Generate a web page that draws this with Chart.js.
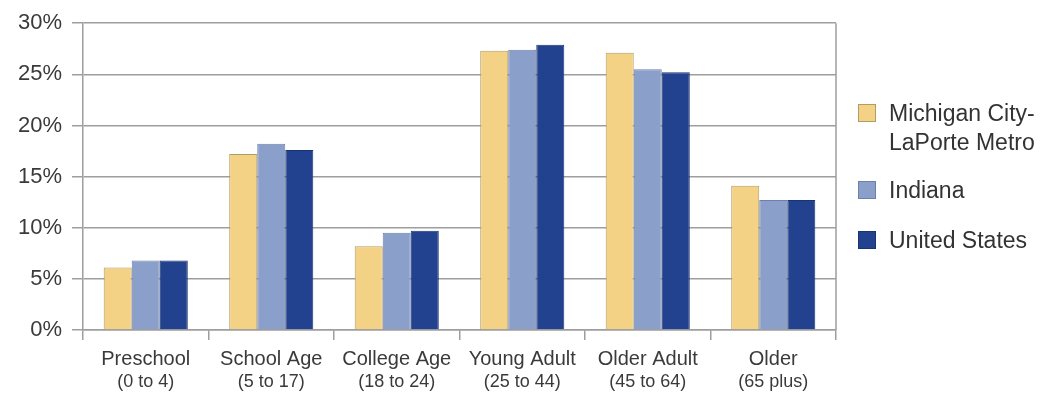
<!DOCTYPE html>
<html>
<head>
<meta charset="utf-8">
<script src="https://cdn.jsdelivr.net/npm/chart.js@4"></script>
<style>
  body { margin: 0; background: #fff; }
  #wrap { position: relative; width: 1041px; height: 393px; }
  .legend-item { position: absolute; left: 858px; font-family: "Liberation Sans", Arial, sans-serif; font-size: 23px; color: #333; line-height: 29px; }
  .legend-item .box { position: absolute; left: 0; top: 5px; width: 18px; height: 18px; }
  .legend-item .txt { position: absolute; left: 31px; top: 0; white-space: nowrap; }
</style>
</head>
<body>
<div id="wrap">
  <canvas id="ageChart" width="1041" height="393"></canvas>
</div>
<script>
// age groups (main label + range shown underneath)
const categories = ['Preschool', 'School Age', 'College Age', 'Young Adult', 'Older Adult', 'Older'];
const subLabels = ['(0 to 4)', '(5 to 17)', '(18 to 24)', '(25 to 44)', '(45 to 64)', '(65 plus)'];

// share of population, percent
const michiganCity = [6.1, 17.2, 8.2, 27.3, 27.1, 14.1];
const indiana = [6.8, 18.2, 9.5, 27.4, 25.5, 12.7];
const unitedStates = [6.8, 17.6, 9.7, 27.9, 25.2, 12.7];

const seriesNames = [['Michigan City-', 'LaPorte Metro'], ['Indiana'], ['United States']];
const fills = ['#F3D286', '#8A9FCA', '#22418F'];
const borders = ['#b39b66', '#6f80a8', '#1b3373'];

const gridColor = '#9e9e9e';

// sub labels + right frame line, drawn off the scales
const extrasPlugin = {
    id: 'extras',
    afterDraw(chart) {
        const ctx = chart.ctx;
        const area = chart.chartArea;
        const xScale = chart.scales.x;
        ctx.save();
        ctx.strokeStyle = gridColor;
        ctx.lineWidth = 1.5;
        ctx.beginPath();
        ctx.moveTo(area.right, area.top);
        ctx.lineTo(area.right, area.bottom);
        ctx.stroke();

        ctx.fillStyle = '#3a3a3a';
        ctx.font = '18px "Liberation Sans", Arial, sans-serif';
        ctx.textAlign = 'center';
        ctx.textBaseline = 'alphabetic';
        subLabels.forEach((s, i) => {
            ctx.fillText(s, xScale.getPixelForValue(i), area.bottom + 57);
        });
        ctx.restore();
    }
};

const ctx = document.getElementById('ageChart').getContext('2d');
const ageChart = new Chart(ctx, {
    type: 'bar',
    data: {
        labels: categories,
        datasets: [michiganCity, indiana, unitedStates].map((vals, i) => ({
            label: seriesNames[i].join(' '),
            data: vals,
            backgroundColor: fills[i],
            borderColor: borders[i],
            borderWidth: 1,
            categoryPercentage: 0.67,
            barPercentage: 1.0
        }))
    },
    options: {
        responsive: false,
        animation: false,
        layout: { padding: { top: 23, right: 205, left: 0, bottom: 0 } },
        plugins: {
            legend: { display: false },
            tooltip: { enabled: false }
        },
        scales: {
            x: {
                grid: {
                    offset: true,
                    drawOnChartArea: false,
                    drawTicks: true,
                    tickLength: 10,
                    color: gridColor,
                    lineWidth: 1.5
                },
                border: { display: true, color: gridColor, width: 1.5 },
                ticks: {
                    color: '#3a3a3a',
                    padding: 7,
                    font: { family: '"Liberation Sans", Arial, sans-serif', size: 20 },
                    maxRotation: 0
                },
                afterFit(scale) { scale.height = 63; }
            },
            y: {
                min: 0,
                max: 30,
                grid: {
                    color: gridColor,
                    lineWidth: 1.5,
                    drawTicks: true,
                    tickLength: 11
                },
                border: { display: true, color: gridColor, width: 1.5 },
                ticks: {
                    stepSize: 5,
                    color: '#3a3a3a',
                    padding: 10,
                    font: { family: '"Liberation Sans", Arial, sans-serif', size: 22 },
                    callback: v => v + '%'
                },
                afterFit(scale) { scale.width = 83; }
            }
        }
    },
    plugins: [extrasPlugin]
});

// html legend on the right
const wrap = document.getElementById('wrap');
const legendTops = [99, 176, 226];
seriesNames.forEach((name, i) => {
    const item = document.createElement('div');
    item.className = 'legend-item';
    item.style.top = legendTops[i] + 'px';
    item.innerHTML = '<div class="box"></div><div class="txt"></div>';
    item.querySelector('.box').style.background = fills[i];
    item.querySelector('.box').style.border = '1px solid ' + borders[i];
    item.querySelector('.box').style.boxSizing = 'border-box';
    item.querySelector('.txt').innerHTML = name.join('<br>');
    wrap.appendChild(item);
});
</script>
</body>
</html>
